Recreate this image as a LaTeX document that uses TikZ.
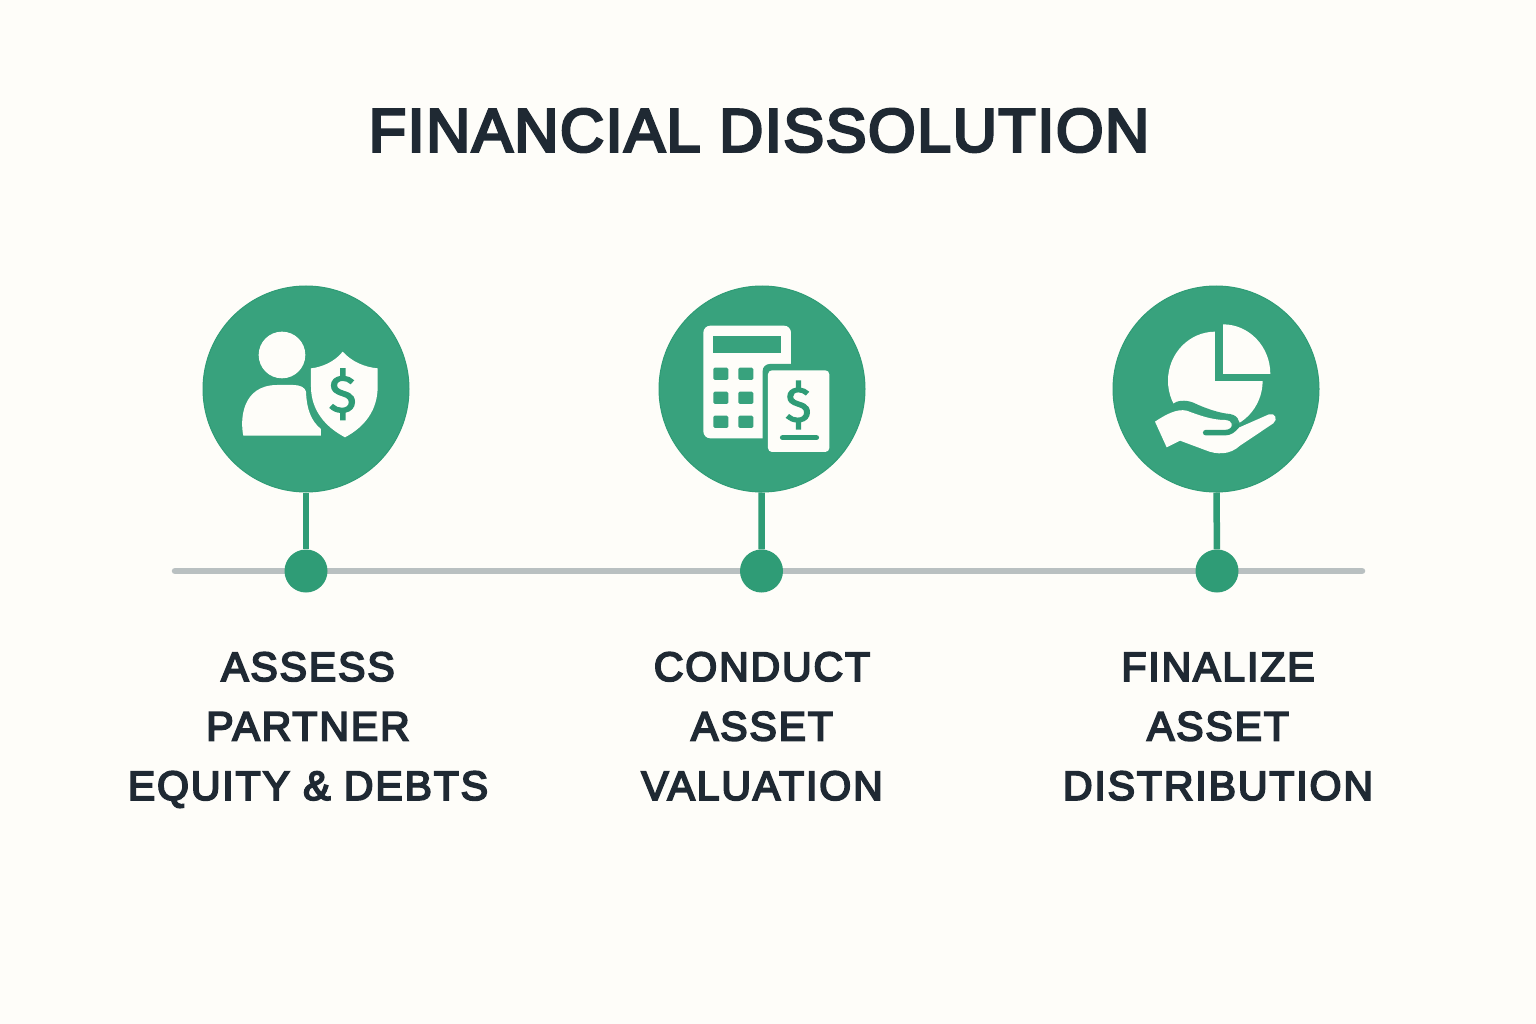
\documentclass[tikz,border=0pt]{standalone}
\usepackage{fontspec}
\setmainfont{Liberation Sans}
\newfontfamily\titlefont[LetterSpace=2.7,FakeBold=4.5]{Liberation Sans}
\newfontfamily\labelfont[LetterSpace=4.6,FakeBold=4.5]{Liberation Sans}
\newfontfamily\dollarfont[FakeBold=2.5]{Fira Sans}
\definecolor{paper}{HTML}{FEFDF9}
\definecolor{leaf}{HTML}{38A27D}
\definecolor{leafdark}{HTML}{2F9C76}
\definecolor{ink}{HTML}{1F2933}
\definecolor{rail}{HTML}{B9C0C1}
\tikzset{
  titletext/.style={text=ink,font=\titlefont\fontsize{61}{70}\selectfont,inner sep=0pt},
  steptext/.style={text=ink,font=\labelfont\fontsize{41}{59.5}\selectfont,align=center,inner sep=0pt},
  bigcircle/.style={circle,fill=leaf,draw=leafdark,line width=1pt,minimum size=206pt,inner sep=0pt},
  smalldot/.style={circle,fill=leafdark,minimum size=43pt,inner sep=0pt},
  stem/.style={draw=leafdark,line width=6.5pt},
  railline/.style={draw=rail,line width=6.5pt,line cap=round},
  icon/.style={fill=paper},
  cut/.style={fill=leaf},
  dollar/.style={text=leafdark,inner sep=0pt},
  zoomed/.style={x=0.3333pt,y=-0.3333pt}
}
\begin{document}
\begin{tikzpicture}[x=1pt,y=-1pt]
\useasboundingbox (0,0) rectangle (1536,1024);
\fill[paper] (0,0) rectangle (1536,1024);
\node[titletext] (title) at (759,130.5) {FINANCIAL DISSOLUTION};
\coordinate (railL) at (175,571);
\coordinate (railR) at (1362,571);
\draw[railline] (railL) -- (railR);
\node[bigcircle] (c1) at (306,389) {};
\node[bigcircle] (c2) at (762,389) {};
\node[bigcircle] (c3) at (1216,389) {};
\node[smalldot] (d1) at (306,571) {};
\node[smalldot] (d2) at (761.5,571) {};
\node[smalldot] (d3) at (1217,571) {};
\draw[stem] (c1) -- (d1);
\draw[stem] (c2) -- (d2);
\draw[stem] (c3) -- (d3);
\node[steptext] (t1) at (308,728.5) {\strut ASSESS\\PARTNER\\EQUITY \& DEBTS\strut};
\node[steptext] (t2) at (762,728.5) {\strut CONDUCT\\ASSET\\VALUATION\strut};
\node[steptext] (t3) at (1218,728.5) {\strut FINALIZE\\ASSET\\DISTRIBUTION\strut};
% icon 1
\begin{scope}[shift={(190,280)},zoomed]
\fill[icon] (276,225) circle [x radius=70,y radius=70];
\fill[icon] (160,467) .. controls (150,420) and (155,315) .. (262,315) -- (310,315)
  .. controls (330,315) and (345,322) .. (348,335) .. controls (350,390) and (365,425) .. (393,447)
  -- (393,467) -- cycle;
\fill[icon] (458,215) .. controls (485,245) and (525,262) .. (563,265) -- (563,320)
  .. controls (563,390) and (525,440) .. (465,472) .. controls (405,440) and (363,390) .. (363,320)
  -- (363,265) .. controls (395,262) and (435,245) .. (458,215) -- cycle;
\node[dollar,font=\dollarfont\fontsize{52}{60}\selectfont] (s1) at (458,343) {\$};
\end{scope}
% icon 2
\begin{scope}[shift={(650,280)},zoomed]
\fill[icon,rounded corners=7pt] (160,137) rectangle (423,475);
\fill[cut] (190,167) rectangle (393,220);
\foreach \kx in {190,265}\foreach \ky in {263,335,407}
  \fill[cut,rounded corners=1.5pt] (\kx,\ky) rectangle ++(45,37);
\fill[cut,rounded corners=7pt] (338,252) rectangle (560,535);
\fill[icon,rounded corners=4pt] (354,271) rectangle (538,516);
\node[dollar,font=\dollarfont\fontsize{49}{60}\selectfont] (s2) at (445,375) {\$};
\draw[leafdark,line width=5.5pt,line cap=round] (398,473) -- (499,473);
\end{scope}
% icon 3
\begin{scope}[shift={(1105,280)},zoomed]
\fill[icon] (331,302) circle [x radius=142,y radius=147];
\fill[cut] (330,302) rectangle (490,140);
\begin{scope}
\clip (354,282) rectangle (510,120);
\fill[icon] (354,282) circle [x radius=142,y radius=149];
\end{scope}
\fill[cut] (203,372) .. controls (215,362) and (240,358) .. (265,368)
  .. controls (300,385) and (345,400) .. (375,402) .. controls (390,405) and (398,412) .. (400,420)
  -- (420,460) -- (330,480) -- (200,460) -- cycle;
\fill[icon] (150,425) .. controls (180,405) and (215,385) .. (245,392)
  .. controls (280,405) and (320,420) .. (360,420)
  .. controls (385,422) and (385,440) .. (372,448)
  -- (390,448) -- (492,403) .. controls (510,397) and (520,418) .. (505,430)
  -- (405,497) .. controls (375,525) and (335,525) .. (300,510)
  -- (225,482) -- (185,502) -- cycle;
\draw[leafdark,line width=5.5pt,line cap=round] (302,458) -- (360,458) .. controls (375,458) and (385,450) .. (395,438);
\end{scope}
\end{tikzpicture}
\end{document}
